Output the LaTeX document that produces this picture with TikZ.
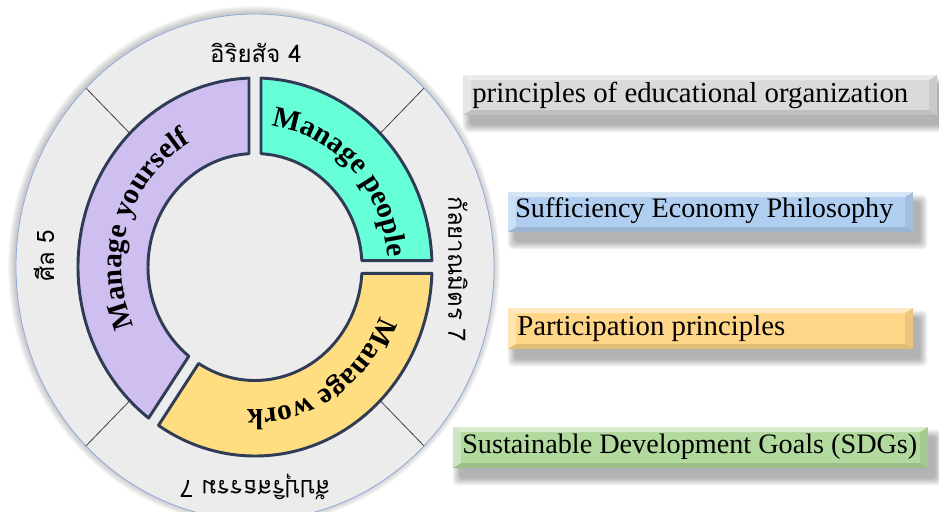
\documentclass[tikz,border=0pt]{standalone}
\usepackage{fontspec}
\setmainfont{Liberation Serif}
\newfontfamily\thaifont[Script=Thai]{Loma}
\usetikzlibrary{decorations.text}
\pgfdeclarelayer{background}
\pgfsetlayers{background,main}
\definecolor{ringbg}{RGB}{236,236,236}
\definecolor{ringedge}{RGB}{142,170,219}
\definecolor{segedge}{RGB}{47,60,85}
\definecolor{purpleseg}{RGB}{207,190,240}
\definecolor{greenseg}{RGB}{102,255,216}
\definecolor{yellowseg}{RGB}{255,222,130}
\definecolor{graybox}{RGB}{218,218,218}
\definecolor{bluebox}{RGB}{176,206,240}
\definecolor{orangebox}{RGB}{255,214,135}
\definecolor{greenbox}{RGB}{178,218,158}
\newcommand\ringfont{\fontsize{22}{26}\selectfont\bfseries}
\begin{document}
\begin{tikzpicture}[x=0.75pt,y=0.75pt,
  seg/.style={draw=segedge, line width=2.2pt, line join=round},
  spoke/.style={draw=black!75, line width=0.6pt},
  thai/.style={font=\thaifont\fontsize{18}{22}\selectfont, inner sep=0pt},
  boxtext/.style={anchor=base west, inner sep=0pt},
  pbox/.style={fill=#1, inner sep=0pt, draw=none,
    path picture={
      \fill[white,opacity=0.5] (path picture bounding box.north west) -- (path picture bounding box.north east)
        -- ([shift={(-8,-5)}]path picture bounding box.north east) -- ([shift={(8,-5)}]path picture bounding box.north west) -- cycle;
      \fill[white,opacity=0.35] (path picture bounding box.north west) -- ([shift={(8,-5)}]path picture bounding box.north west)
        -- ([shift={(8,5)}]path picture bounding box.south west) -- (path picture bounding box.south west) -- cycle;
      \fill[black,opacity=0.12] (path picture bounding box.south west) -- (path picture bounding box.south east)
        -- ([shift={(-8,5)}]path picture bounding box.south east) -- ([shift={(8,5)}]path picture bounding box.south west) -- cycle;
      \fill[black,opacity=0.07] (path picture bounding box.north east) -- ([shift={(-8,-5)}]path picture bounding box.north east)
        -- ([shift={(-8,5)}]path picture bounding box.south east) -- (path picture bounding box.south east) -- cycle;
    }},
]
\useasboundingbox (-255,-244) rectangle (684,267);
% glow of the big disc
\foreach \i in {1,...,7}{
  \fill[black,opacity=0.03] (-1,1) ellipse [x radius={239+\i}, y radius={253+\i}];
}
\fill[ringbg] (0,0) ellipse [x radius=239, y radius=253];
\draw[ringedge, line width=0.6pt] (0,0) ellipse [x radius=239, y radius=253];
% spokes
\foreach \a in {45,135,225,315}{
  \draw[spoke] (\a:177 and 189) -- (\a:239 and 253);
}
% segments
\draw[seg, fill=greenseg] (88.06:177 and 189) arc[start angle=88.06, end angle=1.94, x radius=177, y radius=189]
  -- (3.21:107 and 113.5) arc[start angle=3.21, end angle=86.79, x radius=107, y radius=113.5] -- cycle;
\draw[seg, fill=yellowseg] (-1.94:177 and 189) arc[start angle=-1.94, end angle=-123.06, x radius=177, y radius=189]
  -- (-121.79:107 and 113.5) arc[start angle=-121.79, end angle=-3.21, x radius=107, y radius=113.5] -- cycle;
\draw[seg, fill=purpleseg] (233.06:177 and 189) arc[start angle=233.06, end angle=91.94, x radius=177, y radius=189]
  -- (93.21:107 and 113.5) arc[start angle=93.21, end angle=231.79, x radius=107, y radius=113.5] -- cycle;
% ring labels
\path[decorate, decoration={text along path, text align=center, text={|\ringfont|Manage yourself}}]
  (241:133 and 142) arc[start angle=241, end angle=81, x radius=133, y radius=142];
\path[decorate, decoration={text along path, text align=center, text={|\ringfont|Manage people}}]
  (124.5:133 and 142) arc[start angle=124.5, end angle=-35.5, x radius=133, y radius=142];
\path[decorate, decoration={text along path, text align=center, text={|\ringfont|Manage work}}]
  (22:133 and 142) arc[start angle=22, end angle=-138, x radius=133, y radius=142];
% thai labels
\node[thai] (ariya) at (1,214) {อิริยสัจ 4};
\node[thai, rotate=90] (sila) at (-211,11) {ศีล 5};
\node[thai, rotate=-90] (kalya) at (203,-2) {กัลยาณมิตร 7};
\node[thai, rotate=180] (sappu) at (0,-220) {สัปปุริสธรรม 7};
% boxes
\node[pbox=graybox, minimum width=355.5pt, minimum height=30pt] (b1) at (445,172) {};
\node[pbox=bluebox, minimum width=303.75pt, minimum height=30pt] (b2) at (455.5,55) {};
\node[pbox=orangebox, minimum width=303.75pt, minimum height=30.75pt] (b3) at (455.5,-61.5) {};
\node[pbox=greenbox, minimum width=356.25pt, minimum height=30.75pt] (b4) at (435.5,-180.5) {};
\node[boxtext] (t1) at (217,165) {\resizebox{327pt}{!}{principles of educational organization}};
\node[boxtext] (t2) at (260,50) {\resizebox{283.5pt}{!}{Sufficiency Economy Philosophy}};
\node[boxtext] (t3) at (262,-68) {\resizebox{201pt}{!}{Participation principles}};
\node[boxtext] (t4) at (207,-186) {\resizebox{341.25pt}{!}{Sustainable Development Goals (SDGs)}};
\begin{pgfonlayer}{background}
\foreach \b in {b1,b2,b3,b4}{
  \foreach \i in {0,...,7}{
    \fill[black,opacity=0.045,rounded corners=3pt]
      ([shift={({7-\i},{-10-\i})}]\b.south west) rectangle ([shift={({7+\i},{-10+\i})}]\b.north east);
  }
}
\end{pgfonlayer}
\end{tikzpicture}
\end{document}
